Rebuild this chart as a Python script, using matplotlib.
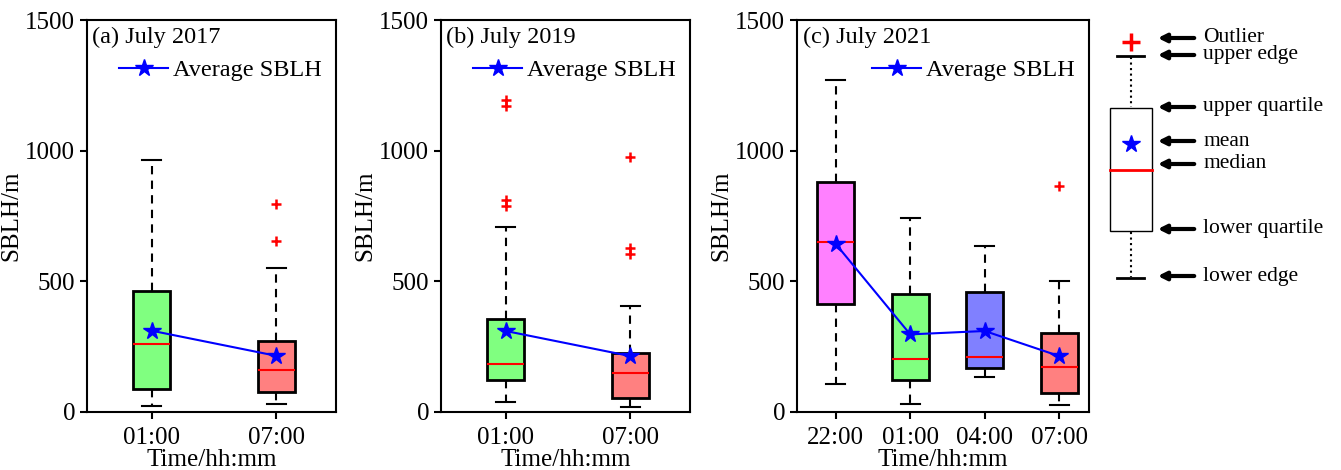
import matplotlib
matplotlib.use('Agg')
import matplotlib.pyplot as plt

plt.rcParams['font.family'] = ['Liberation Serif', 'DejaVu Serif']

# box statistics (SBLH in m)
labels_a = ['01:00', '07:00']
labels_b = ['01:00', '07:00']
labels_c = ['22:00', '01:00', '04:00', '07:00']

low_a = [24, 29]
q1_a = [87, 78]
med_a = [261, 161]
q3_a = [463, 270]
high_a = [963, 552]
mean_a = [311, 215]
fliers_a = [[], [795, 656]]

low_b = [38, 20]
q1_b = [122, 52]
med_b = [185, 150]
q3_b = [355, 226]
high_b = [708, 406]
mean_b = [310, 214]
fliers_b = [[1194, 1171, 811, 788], [976, 629, 605]]

low_c = [108, 29, 134, 27]
q1_c = [412, 124, 168, 72]
med_c = [651, 204, 212, 172]
q3_c = [881, 453, 459, 301]
high_c = [1269, 744, 634, 501]
mean_c = [643, 297, 310, 214]
fliers_c = [[], [], [], [865]]

colors_a = ['#80ff80', '#ff8080']
colors_c = ['#ff80ff', '#80ff80', '#8080ff', '#ff8080']

fig = plt.figure(figsize=(13.41, 4.7), dpi=100)


def panel(rect, title, labels, low, q1, med, q3, high, mean, fliers, colors, width, xmax):
    ax = fig.add_axes(rect)
    stats = []
    for i in range(len(labels)):
        stats.append(dict(whislo=low[i], q1=q1[i], med=med[i], q3=q3[i],
                          whishi=high[i], fliers=fliers[i], label=labels[i]))
    pos = list(range(1, len(labels) + 1))
    bp = ax.bxp(stats, positions=pos, widths=width, patch_artist=True,
                showfliers=True, capwidths=width / 2,
                boxprops=dict(edgecolor='black', linewidth=2),
                medianprops=dict(color='red', linewidth=1.5),
                whiskerprops=dict(color='black', linewidth=1.5, linestyle=(0, (4, 3))),
                capprops=dict(color='black', linewidth=1.5),
                flierprops=dict(marker='+', markeredgecolor='red', markersize=7,
                                markeredgewidth=1.8, linestyle='none'))
    for patch, c in zip(bp['boxes'], colors):
        patch.set_facecolor(c)
    ax.plot(pos, mean, 'b-', marker='*', markersize=13, linewidth=1.5,
            label='Average SBLH', zorder=5)
    ax.set_xlim(0.48, xmax)
    ax.set_ylim(0, 1500)
    ax.set_yticks([0, 500, 1000, 1500])
    ax.tick_params(labelsize=18, width=1.5, length=5, direction='out')
    ax.tick_params(axis='x', pad=6)
    ax.set_ylabel('SBLH/m', fontsize=18, labelpad=2)
    ax.set_xlabel('Time/hh:mm', fontsize=18, labelpad=0)
    for s in ax.spines.values():
        s.set_linewidth(1.5)
    ax.text(0.02, 0.955, title, transform=ax.transAxes, fontsize=17.5,
            va='center', ha='left')
    ax.legend(loc='center right', bbox_to_anchor=(1.0, 0.872), frameon=False,
              fontsize=17.5, handlelength=2.0, handletextpad=0.2, borderaxespad=0.2)
    return ax


bottom = 58 / 470
height = 392 / 470
panel([87 / 1341, bottom, 249 / 1341, height], '(a) July 2017', labels_a,
      low_a, q1_a, med_a, q3_a, high_a, mean_a, fliers_a, colors_a, 0.3, 2.48)
panel([441 / 1341, bottom, 249 / 1341, height], '(b) July 2019', labels_b,
      low_b, q1_b, med_b, q3_b, high_b, mean_b, fliers_b, colors_a, 0.3, 2.48)
panel([797 / 1341, bottom, 292 / 1341, height], '(c) July 2021', labels_c,
      low_c, q1_c, med_c, q3_c, high_c, mean_c, fliers_c, colors_c, 0.5, 4.4)

# schematic key on the right (drawn in pixel units)
key = fig.add_axes([1080 / 1341, 0, 261 / 1341, 1])
key.set_xlim(1080, 1341)
key.set_ylim(470, 0)
key.axis('off')

key_names = ['Outlier', 'upper edge', 'upper quartile', 'mean', 'median',
             'lower quartile', 'lower edge']
key_y = [38, 55, 107, 141, 164, 229, 276]

bx0, bx1, cx = 1110, 1152, 1131
key.add_patch(plt.Rectangle((bx0, 108), bx1 - bx0, 123, fill=False,
                            edgecolor='black', linewidth=1))
key.plot([bx0, bx1], [170, 170], color='red', linewidth=2)
key.plot([cx], [144], marker='*', color='blue', markersize=13)
key.plot([cx], [42], marker='+', color='red', markersize=13, markeredgewidth=2.5)
key.plot([1117, 1144], [56, 56], color='black', linewidth=2)
key.plot([1117, 1144], [278, 278], color='black', linewidth=2)
key.plot([cx, cx], [57, 107], color='black', linewidth=1.5, linestyle=':')
key.plot([cx, cx], [232, 277], color='black', linewidth=1.5, linestyle=':')
for name, y in zip(key_names, key_y):
    key.annotate('', xy=(1155, y), xytext=(1197, y),
                 arrowprops=dict(arrowstyle='-|>', color='black', lw=3,
                                 mutation_scale=12, fill=False))
    key.text(1203, y, name, fontsize=15.5, va='center', ha='left')

fig.savefig('out.png', dpi=100)
